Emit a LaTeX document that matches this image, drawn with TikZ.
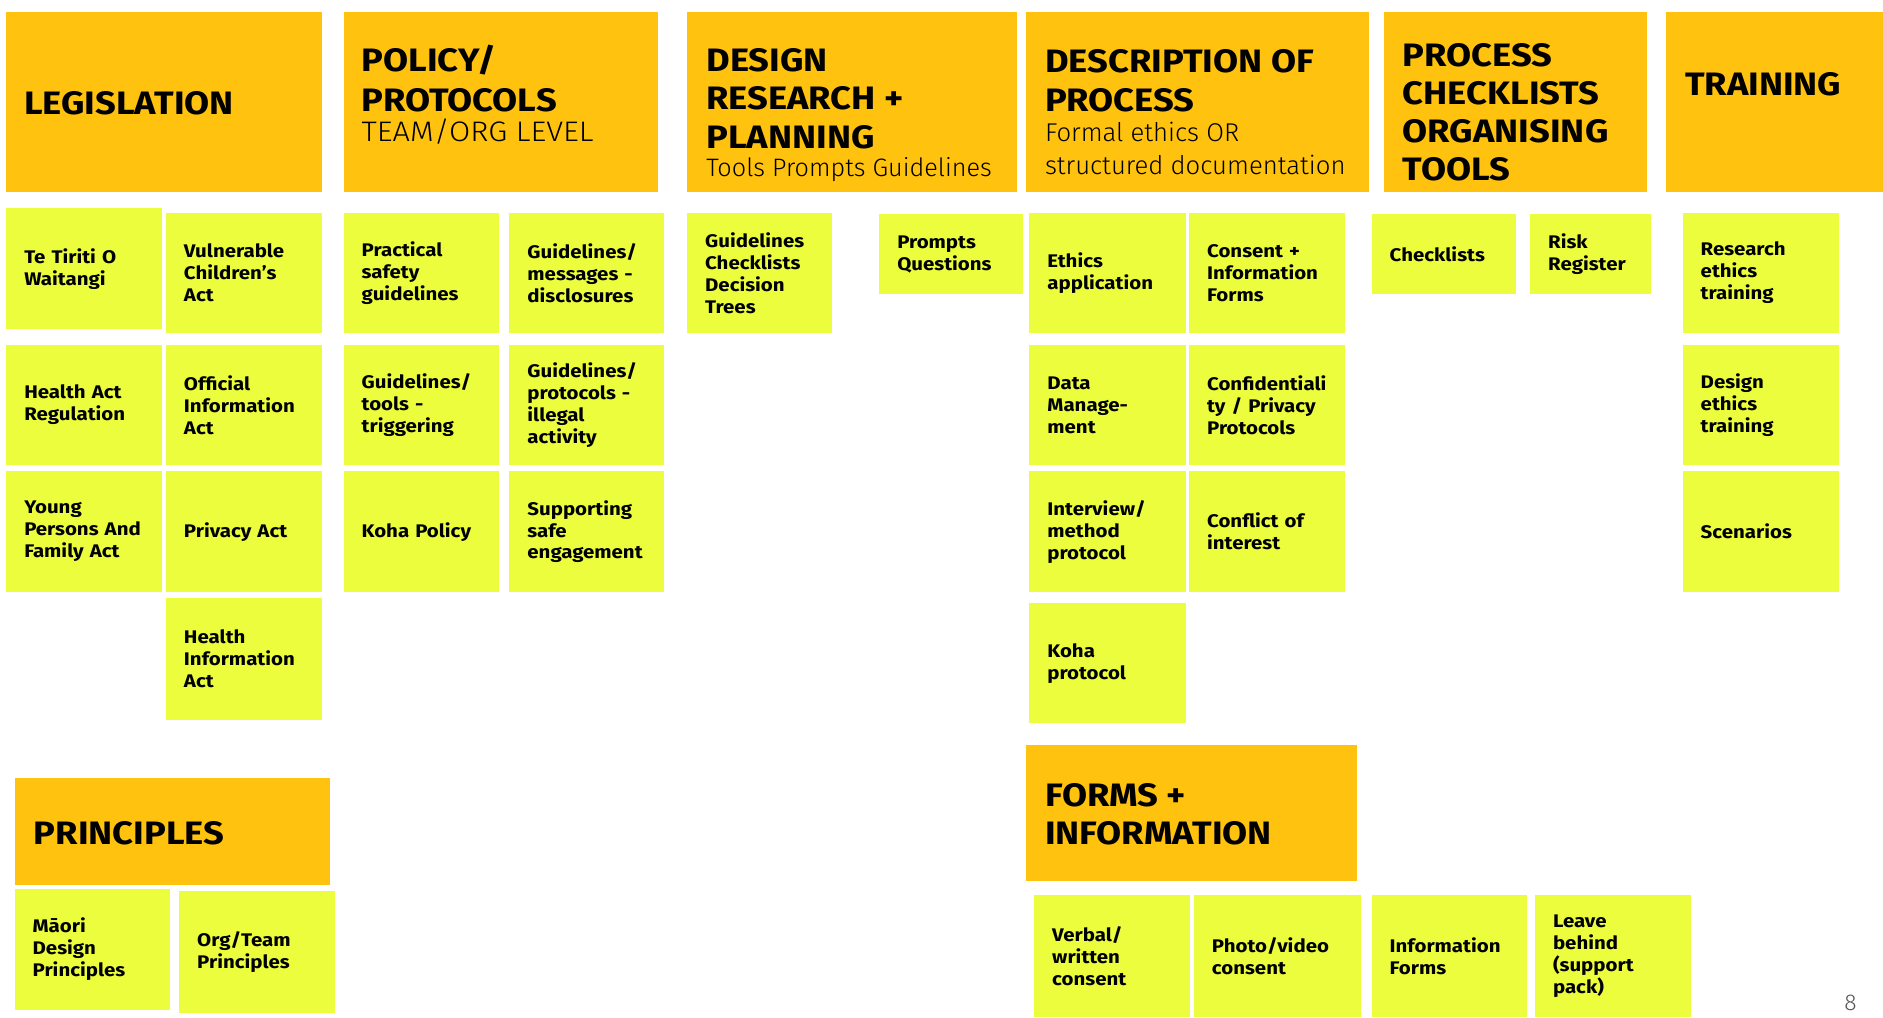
\documentclass[tikz,border=0pt]{standalone}
\usepackage{fontspec}
\setmainfont{Fira Sans}[BoldFont={Fira Sans Bold}, BoldFeatures={FakeStretch=1.12}]
\newfontfamily\lightfont{Fira Sans Light}
\newfontfamily\lightwide{Fira Sans Light}[FakeStretch=1.09]
\definecolor{hdr}{HTML}{FFC20E}
\definecolor{card}{HTML}{EBFD3C}
\definecolor{pagegrey}{HTML}{555555}
\tikzset{
  hdrbox/.style={fill=hdr, draw=none, anchor=north west, inner sep=0pt},
  hdrtext/.style={anchor=base west, inner sep=0pt, align=left, font=\bfseries\fontsize{27}{32}\selectfont},
  subtext/.style={anchor=base west, inner sep=0pt, align=left, font=\lightfont\fontsize{21.4}{27}\selectfont},
  cardbox/.style={fill=card, draw=none, anchor=north west, inner xsep=15pt, inner ysep=0pt,
     align=left, font=\bfseries\fontsize{15.2}{18.3}\selectfont},
}
\begin{document}
\begin{tikzpicture}[x=1pt,y=-1pt]
\useasboundingbox (0,0) rectangle (1568,847);
% ---------- headers ----------
\node[hdrbox, minimum width=263pt, minimum height=150pt] (legH) at (5,10) {};
\node[hdrtext] (legT) at (20,95.5) {LEGISLATION};
\node[hdrbox, minimum width=262pt, minimum height=150pt] (polH) at (286,10) {};
\node[hdrtext, font=\bfseries\fontsize{27}{33}\selectfont] (polT) at (301,92.5) {POLICY/\\PROTOCOLS};
\node[subtext, font=\lightwide\fontsize{23.5}{27}\selectfont] (polS) at (301,118) {TEAM/ORG LEVEL};
\node[hdrbox, minimum width=275pt, minimum height=150pt] (desH) at (572,10) {};
\node[hdrtext] (desT) at (588,123.5) {DESIGN\\RESEARCH +\\PLANNING};
\node[subtext, font=\lightfont\fontsize{21}{27}\selectfont] (desS) at (588,147) {Tools Prompts Guidelines};
\node[hdrbox, minimum width=286pt, minimum height=150pt] (prcH) at (854,10) {};
\node[hdrtext] (prcT) at (870,92.5) {DESCRIPTION OF\\PROCESS};
\node[subtext] (prcS) at (870,145) {Formal ethics OR\\structured documentation};
\node[hdrbox, minimum width=219pt, minimum height=150pt] (chkH) at (1152,10) {};
\node[hdrtext, font=\bfseries\fontsize{27}{31.7}\selectfont] (chkT) at (1168,150.5) {PROCESS\\CHECKLISTS\\ORGANISING\\TOOLS};
\node[hdrbox, minimum width=181pt, minimum height=150pt] (trnH) at (1387,10) {};
\node[hdrtext] (trnT) at (1403,79.5) {TRAINING};
\node[hdrbox, minimum width=263pt, minimum height=89pt] (priH) at (12,648) {};
\node[hdrtext] (priT) at (28,703.5) {PRINCIPLES};
\node[hdrbox, minimum width=276pt, minimum height=113pt] (frmH) at (854,620) {};
\node[hdrtext] (frmT) at (870,703.5) {FORMS +\\INFORMATION};
% ---------- legislation ----------
\node[cardbox, minimum width=130pt, minimum height=101pt, text width=100pt] (tiriti) at (5,173) {Te Tiriti O\\Waitangi};
\node[cardbox, minimum width=130pt, minimum height=100pt, text width=100pt] (vca) at (138,177) {Vulnerable\\Children’s\\Act};
\node[cardbox, minimum width=130pt, minimum height=100pt, text width=100pt] (health) at (5,287) {Health Act\\Regulation};
\node[cardbox, minimum width=130pt, minimum height=100pt, text width=100pt] (oia) at (138,287) {Official\\Information\\Act};
\node[cardbox, minimum width=130pt, minimum height=101pt, text width=100pt] (ypfa) at (5,392) {Young\\Persons And\\Family Act};
\node[cardbox, minimum width=130pt, minimum height=101pt, text width=100pt] (priv) at (138,392) {Privacy Act};
\node[cardbox, minimum width=130pt, minimum height=101pt, text width=100pt] (hia) at (138,498) {Health\\Information\\Act};
% ---------- policy ----------
\node[cardbox, minimum width=129pt, minimum height=100pt, text width=99pt] (psg) at (286,177) {Practical\\safety\\guidelines};
\node[cardbox, minimum width=129pt, minimum height=100pt, text width=99pt] (gmd) at (424,177) {Guidelines/\\messages -\\disclosures};
\node[cardbox, minimum width=129pt, minimum height=100pt, text width=99pt] (gtt) at (286,287) {Guidelines/\\tools -\\triggering};
\node[cardbox, minimum width=129pt, minimum height=100pt, text width=99pt] (gpi) at (424,287) {Guidelines/\\protocols -\\illegal\\activity};
\node[cardbox, minimum width=129pt, minimum height=101pt, text width=99pt] (koha) at (286,392) {Koha Policy};
\node[cardbox, minimum width=129pt, minimum height=101pt, text width=99pt] (sse) at (424,392) {Supporting\\safe\\engagement};
% ---------- design ----------
\node[cardbox, minimum width=121pt, minimum height=100pt, text width=91pt] (gcd) at (572,177) {Guidelines\\Checklists\\Decision\\Trees};
\node[cardbox, minimum width=120pt, minimum height=67pt, text width=90pt] (pq) at (732,178) {Prompts\\Questions};
% ---------- description ----------
\node[cardbox, minimum width=130pt, minimum height=100pt, text width=100pt] (eth) at (857,177) {Ethics\\application};
\node[cardbox, minimum width=130pt, minimum height=100pt, text width=100pt] (cif) at (990,177) {Consent +\\Information\\Forms};
\node[cardbox, minimum width=130pt, minimum height=100pt, text width=100pt] (dm) at (857,287) {Data\\Manage-\\ment};
\node[cardbox, minimum width=130pt, minimum height=100pt, text width=100pt] (cpp) at (990,287) {Confidentiali\\ty / Privacy\\Protocols};
\node[cardbox, minimum width=130pt, minimum height=101pt, text width=100pt] (imp) at (857,392) {Interview/\\method\\protocol};
\node[cardbox, minimum width=130pt, minimum height=101pt, text width=100pt] (coi) at (990,392) {Conflict of\\interest};
\node[cardbox, minimum width=130pt, minimum height=100pt, text width=100pt] (kp) at (857,502) {Koha\\protocol};
% ---------- checklists ----------
\node[cardbox, minimum width=120pt, minimum height=67pt, text width=90pt] (chk) at (1142,178) {Checklists};
\node[cardbox, minimum width=101pt, minimum height=67pt, text width=71pt] (risk) at (1274,178) {Risk\\Register};
% ---------- training ----------
\node[cardbox, minimum width=130pt, minimum height=100pt, text width=100pt] (ret) at (1401,177) {Research\\ethics\\training};
\node[cardbox, minimum width=130pt, minimum height=100pt, text width=100pt] (det) at (1401,287) {Design\\ethics\\training};
\node[cardbox, minimum width=130pt, minimum height=101pt, text width=100pt] (scn) at (1401,392) {Scenarios};
% ---------- principles ----------
\node[cardbox, minimum width=129pt, minimum height=101pt, text width=99pt] (mdp) at (12,740) {Māori\\Design\\Principles};
\node[cardbox, minimum width=130pt, minimum height=101pt, text width=100pt] (otp) at (149,742) {Org/Team\\Principles};
% ---------- forms ----------
\node[cardbox, minimum width=130pt, minimum height=102pt, text width=100pt] (vwc) at (861,745) {Verbal/\\written\\consent};
\node[cardbox, minimum width=139pt, minimum height=102pt, text width=109pt] (pvc) at (994,745) {Photo/video\\consent};
\node[cardbox, minimum width=129pt, minimum height=102pt, text width=99pt] (inf) at (1142,745) {Information\\Forms};
\node[cardbox, minimum width=130pt, minimum height=102pt, text width=100pt] (lbs) at (1278,745) {Leave\\behind\\(support\\pack)};
% page number
\node[anchor=north, inner sep=0pt, text=pagegrey, font=\lightfont\fontsize{19}{19}\selectfont] (pg) at (1541,828) {8};
\end{tikzpicture}
\end{document}
